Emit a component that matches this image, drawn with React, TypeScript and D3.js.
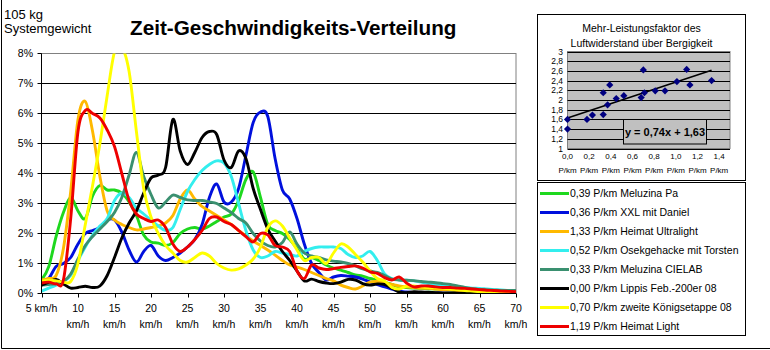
import React from "react";
import * as d3 from "d3";

// speed categories (km/h)
const speeds = [5, 6, 7, 8, 9, 10, 11, 12, 13, 14, 15, 16, 17, 18, 19, 20, 21, 22, 23, 24, 25, 26, 27, 28, 29, 30, 31, 32, 33, 34, 35, 36, 37, 38, 39, 40, 41, 42, 43, 44, 45, 46, 47, 48, 49, 50, 51, 52, 53, 54, 55, 56, 57, 58, 59, 60, 61, 62, 63, 64, 65, 66, 67, 68, 69, 70];

// time share in % per speed
const meluzinaPa = [0.45, 0.9, 1.9, 2.7, 3.2, 2.75, 2.5, 3.25, 3.6, 3.45, 3.45, 3.35, 3.05, 2.6, 1.95, 1.72, 1.68, 1.6, 1.7, 2.0, 2.15, 2.2, 2.15, 2.25, 2.4, 2.55, 2.65, 3.1, 3.8, 4.05, 3.2, 2.3, 2.1, 2.0, 1.8, 1.5, 1.15, 1.2, 1.1, 0.95, 0.85, 0.78, 0.7, 0.62, 0.58, 0.5, 0.45, 0.38, 0.3, 0.22, 0.2, 0.18, 0.17, 0.16, 0.15, 0.14, 0.12, 0.1, 0.1, 0.09, 0.08, 0.07, 0.06, 0.05, 0.05, 0.05];
const xxlDaniel = [0.3, 0.5, 0.9, 1.0, 1.2, 1.65, 2.0, 2.1, 2.2, 2.45, 2.45, 2.05, 1.45, 1.05, 1.4, 1.6, 1.25, 1.1, 1.2, 1.35, 1.55, 1.8, 2.3, 3.2, 3.65, 3.05, 3.05, 3.5, 4.6, 5.7, 6.05, 5.9, 4.5, 3.45, 3.15, 2.5, 1.65, 1.0, 0.7, 0.45, 0.55, 0.6, 0.58, 0.55, 0.48, 0.38, 0.3, 0.22, 0.15, 0.08, 0.05, 0.03, 0.02, 0.02, 0.02, 0.01, 0.01, 0.01, 0.01, 0, 0, 0, 0, 0, 0, 0];
const heimatUltralight = [0.45, 0.5, 0.6, 1.5, 3.4, 5.8, 6.4, 5.4, 3.9, 2.75, 2.45, 2.3, 2.2, 2.12, 2.15, 2.2, 2.25, 2.35, 2.6, 3.15, 3.45, 3.15, 2.9, 2.75, 2.6, 2.45, 2.3, 2.1, 1.92, 1.75, 1.6, 1.45, 1.28, 1.1, 0.95, 0.88, 0.8, 0.7, 0.6, 0.5, 0.42, 0.28, 0.2, 0.15, 0.25, 0.38, 0.4, 0.35, 0.3, 0.25, 0.22, 0.2, 0.18, 0.17, 0.15, 0.13, 0.12, 0.1, 0.08, 0.07, 0.06, 0.05, 0.04, 0.04, 0.03, 0.03];
const osekgehacke = [0.08, 0.18, 0.28, 0.4, 0.6, 1.1, 1.55, 1.95, 2.25, 2.5, 3.1, 3.35, 3.2, 2.85, 2.65, 2.45, 2.25, 2.1, 2.2, 2.8, 3.4, 3.8, 4.1, 4.3, 4.42, 4.35, 3.9, 3.0, 2.1, 1.45, 1.2, 1.25, 1.4, 1.35, 1.3, 1.25, 1.4, 1.5, 1.55, 1.55, 1.55, 1.5, 1.3, 1.2, 1.25, 1.4, 1.1, 0.65, 0.5, 0.45, 0.44, 0.42, 0.38, 0.33, 0.3, 0.28, 0.25, 0.22, 0.2, 0.18, 0.17, 0.15, 0.13, 0.12, 0.1, 0.1];
const meluzinaCielab = [0.28, 0.3, 0.33, 0.4, 0.65, 1.15, 1.6, 1.9, 2.15, 2.4, 2.7, 3.2, 3.95, 4.7, 3.9, 3.3, 2.85, 3.05, 3.28, 3.2, 3.12, 3.1, 3.1, 3.05, 3.0, 2.85, 2.7, 2.5, 2.35, 2.0, 1.75, 1.6, 1.55, 1.7, 2.05, 1.65, 1.35, 1.25, 1.2, 1.12, 1.08, 1.05, 1.0, 0.92, 0.82, 0.75, 0.7, 0.6, 0.48, 0.45, 0.44, 0.43, 0.4, 0.38, 0.36, 0.33, 0.3, 0.25, 0.2, 0.16, 0.13, 0.12, 0.11, 0.1, 0.1, 0.1];
const lippis = [0.28, 0.38, 0.47, 0.32, 0.18, 0.2, 0.24, 0.2, 0.25, 0.6, 1.2, 1.85, 2.35, 2.75, 3.35, 3.85, 3.95, 4.2, 5.8, 4.75, 4.3, 4.7, 5.2, 5.4, 5.3, 4.45, 4.2, 4.75, 4.5, 3.5, 2.8, 2.15, 1.75, 1.4, 1.1, 0.75, 0.42, 0.48, 0.4, 0.35, 0.33, 0.38, 0.47, 0.45, 0.33, 0.28, 0.32, 0.3, 0.18, 0.05, 0.03, 0.06, 0.05, 0.04, 0.03, 0.02, 0.02, 0.01, 0.01, 0.01, 0.01, 0, 0, 0, 0, 0];
const koenigsetappe = [0.4, 0.44, 0.42, 0.38, 0.4, 1.0, 2.3, 3.6, 5.0, 6.6, 8.05, 8.2, 7.4, 5.4, 3.5, 2.55, 2.0, 1.6, 1.35, 1.1, 1.05, 1.2, 1.35, 1.25, 1.0, 0.85, 0.78, 0.82, 0.95, 1.15, 1.55, 2.2, 2.42, 2.25, 1.85, 1.45, 1.1, 1.2, 1.2, 1.0, 1.35, 1.65, 1.55, 1.3, 1.05, 0.75, 0.5, 0.42, 0.2, 0.15, 0.25, 0.25, 0.22, 0.2, 0.2, 0.18, 0.15, 0.13, 0.1, 0.08, 0.06, 0.05, 0.04, 0.03, 0.03, 0.03];
const heimatLight = [0.35, 0.38, 0.32, 0.45, 2.5, 5.4, 6.1, 6.0, 5.85, 5.45, 4.9, 4.0, 3.1, 2.65, 2.5, 2.4, 2.45, 2.2, 1.65, 1.4, 1.55, 1.8, 2.1, 2.5, 2.55, 2.4, 2.3, 2.1, 1.9, 1.72, 2.0, 1.95, 1.6, 1.55, 1.4, 0.75, 0.5, 0.95, 0.85, 0.8, 0.83, 0.87, 0.9, 0.92, 0.85, 0.72, 0.67, 0.53, 0.45, 0.55, 0.35, 0.22, 0.25, 0.25, 0.22, 0.2, 0.2, 0.18, 0.17, 0.15, 0.13, 0.11, 0.1, 0.08, 0.07, 0.06];

const seriesValues = [meluzinaPa, xxlDaniel, heimatUltralight, osekgehacke, meluzinaCielab, lippis, koenigsetappe, heimatLight];
const seriesLabels = [
  "0,39 P/km Meluzina Pa",
  "0,36 P/km XXL mit Daniel",
  "1,33 P/km Heimat Ultralight",
  "0,52 P/km Osekgehacke mit Torsten",
  "0,33 P/km Meluzina CIELAB",
  "0,00 P/km Lippis Feb.-200er 08",
  "0,70 P/km zweite Königsetappe 08",
  "1,19 P/km Heimat Light",
];
const seriesColors = ["#1ed81e", "#0010dd", "#ffb900", "#33eeee", "#3a9070", "#000000", "#ffff00", "#ee0000"];

const yTicks = [0, 1, 2, 3, 4, 5, 6, 7, 8];
const xTicks = [5, 10, 15, 20, 25, 30, 35, 40, 45, 50, 55, 60, 65, 70];

// inset: extra power factor vs. hilliness
const hilliness = [0, 0, 0.18, 0.23, 0.33, 0.33, 0.37, 0.39, 0.45, 0.52, 0.68, 0.7, 0.71, 0.81, 0.9, 1.01, 1.1, 1.13, 1.33];
const powerFactor = [1.6, 1.4, 1.6, 1.69, 2.15, 1.7, 1.9, 2.31, 2.03, 2.09, 2.05, 2.62, 2.15, 2.19, 2.19, 2.38, 2.63, 2.31, 2.4];
const trendSlope = 0.74;
const trendIntercept = 1.63;
const insetYTicks = [1, 1.2, 1.4, 1.6, 1.8, 2, 2.2, 2.4, 2.6, 2.8, 3];
const insetXTicks = [0, 0.2, 0.4, 0.6, 0.8, 1.0, 1.2, 1.4];

const FONT = "'Liberation Sans', Arial, sans-serif";

export default function App() {
  const x = d3.scaleLinear().domain([5, 70]).range([41.5, 516]);
  const y = d3.scaleLinear().domain([0, 8]).range([293.5, 53.5]);
  const line = d3
    .line<number>()
    .x((_, i) => x(speeds[i]))
    .y((d) => y(d))
    .curve(d3.curveCatmullRom.alpha(0));

  const ix = d3.scaleLinear().domain([0, 1.5]).range([567.5, 730]);
  const iy = d3.scaleLinear().domain([1, 3]).range([148.5, 51.5]);
  const comma = (v: number, d: number) => v.toFixed(d).replace(".", ",");
  const xMax = d3.max(hilliness) as number;

  return (
    <svg
      width={770}
      height={350}
      style={{ position: "absolute", left: 0, top: 0, display: "block", background: "#fff" }}
      fontFamily={FONT}
    >
      <defs>
        <clipPath id="plotclip">
          <rect x={41.5} y={53.5} width={474.5} height={240} />
        </clipPath>
      </defs>
      <rect x={0} y={0} width={770} height={350} fill="#fff" />
      {/* chart border (left/bottom visible) */}
      <line x1={1.5} y1={0} x2={1.5} y2={348.5} stroke="#000" />
      <line x1={1.5} y1={348.5} x2={770} y2={348.5} stroke="#000" />

      {/* header texts */}
      <text x={4} y={18.5} fontSize={13}>105 kg</text>
      <text x={4} y={32.5} fontSize={13}>Systemgewicht</text>
      <text x={130} y={35} fontSize={20.7} fontWeight="bold">Zeit-Geschwindigkeits-Verteilung</text>

      {/* plot area */}
      <rect x={41.5} y={53.5} width={474.5} height={240} fill="#fff" stroke="#808080" />
      {yTicks.slice(1, -1).map((t) => (
        <line key={t} x1={41.5} x2={516} y1={y(t)} y2={y(t)} stroke="#000" />
      ))}
      {yTicks.map((t) => (
        <g key={t}>
          <line x1={37.5} x2={41.5} y1={y(t)} y2={y(t)} stroke="#000" />
          <text x={33} y={y(t)} dy="0.35em" textAnchor="end" fontSize={10.5}>{t}%</text>
        </g>
      ))}
      {xTicks.map((t) => (
        <g key={t}>
          <line x1={Math.round(x(t)) + 0.5} x2={Math.round(x(t)) + 0.5} y1={293.5} y2={297.5} stroke="#000" />
          {t === 5 ? (
            <text x={x(t)} y={312} textAnchor="middle" fontSize={10.5}>{t} km/h</text>
          ) : (
            <>
              <text x={x(t)} y={312} textAnchor="middle" fontSize={10.5}>{t}</text>
              <text x={x(t)} y={328} textAnchor="middle" fontSize={10.5}>km/h</text>
            </>
          )}
        </g>
      ))}

      {/* series */}
      <g clipPath="url(#plotclip)">
        {seriesValues.map((vals, i) => (
          <path key={i} d={line(vals) || ""} fill="none" stroke={seriesColors[i]} strokeWidth={2.9} strokeLinejoin="round" />
        ))}
      </g>
      {/* axes */}
      <line x1={41.5} x2={41.5} y1={53.5} y2={293.5} stroke="#000" />
      <line x1={41.5} x2={516} y1={293.5} y2={293.5} stroke="#000" />

      {/* inset chart */}
      <rect x={537.5} y={14.5} width={208} height={166} fill="#fff" stroke="#000" />
      <text x={641.5} y={32} textAnchor="middle" fontSize={10.5}>Mehr-Leistungsfaktor des</text>
      <text x={641.5} y={47} textAnchor="middle" fontSize={10.5}>Luftwiderstand über Bergigkeit</text>
      <rect x={567.5} y={51.5} width={162.5} height={97} fill="#c0c0c0" stroke="#808080" />
      {insetYTicks.map((t) => (
        <g key={t}>
          <line x1={567.5} x2={730} y1={Math.round(iy(t)) + 0.5} y2={Math.round(iy(t)) + 0.5} stroke="#000" />
          <text x={563} y={iy(t)} dy="0.36em" textAnchor="end" fontSize={8.5}>
            {Number.isInteger(t) ? String(t) : comma(t, 1)}
          </text>
        </g>
      ))}
      {insetXTicks.map((t) => (
        <g key={t}>
          <text x={ix(t)} y={159} textAnchor="middle" fontSize={8}>{comma(t, 1)}</text>
          <text x={ix(t)} y={172.5} textAnchor="middle" fontSize={8}>P/km</text>
        </g>
      ))}
      <line
        x1={ix(0)}
        y1={iy(trendIntercept)}
        x2={ix(xMax)}
        y2={iy(trendSlope * xMax + trendIntercept)}
        stroke="#000"
        strokeWidth={1.6}
      />
      {hilliness.map((h, i) => {
        const cx = ix(h);
        const cy = iy(powerFactor[i]);
        const r = 3.6;
        return (
          <path key={i} d={`M${cx},${cy - r}L${cx + r},${cy}L${cx},${cy + r}L${cx - r},${cy}Z`} fill="#000080" />
        );
      })}
      <rect x={623.5} y={119.5} width={83} height={24.5} fill="#c0c0c0" stroke="#000" />
      <text x={665} y={136} textAnchor="middle" fontSize={11} fontWeight="bold">
        {`y = ${comma(trendSlope, 2)}x + ${comma(trendIntercept, 2)}`}
      </text>

      {/* legend */}
      <rect x={537.5} y={182.5} width={208} height={153} fill="#fff" stroke="#000" />
      {seriesLabels.map((lab, i) => {
        const ly = 193.5 + i * 19;
        return (
          <g key={i}>
            <line x1={540} x2={569} y1={ly} y2={ly} stroke={seriesColors[i]} strokeWidth={3} />
            <text x={570} y={ly} dy="0.35em" fontSize={10.5}>{lab}</text>
          </g>
        );
      })}
    </svg>
  );
}
